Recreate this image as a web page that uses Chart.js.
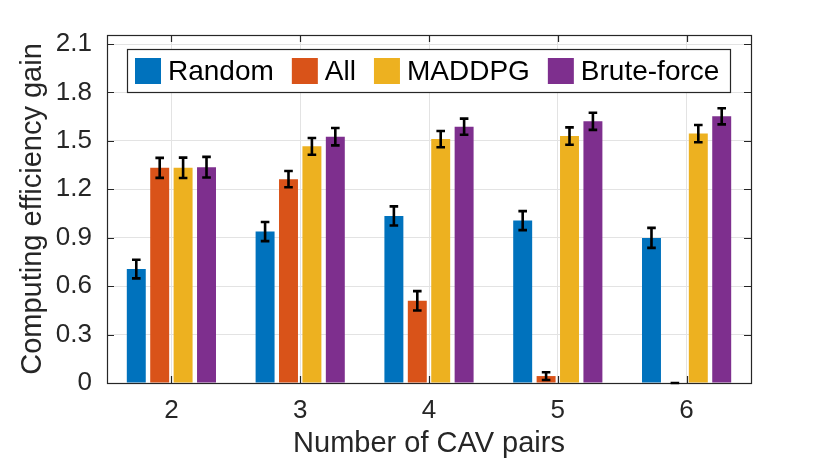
<!DOCTYPE html>
<html>
<head>
<meta charset="utf-8">
<script src="https://cdn.jsdelivr.net/npm/chart.js@4.4.1/dist/chart.umd.min.js"></script>
<style>
  html, body { margin: 0; padding: 0; background: #fff; }
  #wrap { width: 830px; height: 465px; }
</style>
</head>
<body>
<div id="wrap"><canvas id="gainChart"></canvas></div>
<script>
// chart data
const categories = ['2', '3', '4', '5', '6'];
const seriesNames = ['Random', 'All', 'MADDPG', 'Brute-force'];
const randomGain = [0.706, 0.938, 1.035, 1.006, 0.899];
const allGain = [1.333, 1.263, 0.509, 0.043, 0];
const maddpgGain = [1.333, 1.466, 1.511, 1.530, 1.545];
const bruteGain = [1.337, 1.526, 1.588, 1.621, 1.652];
const randomErr = [0.058, 0.059, 0.059, 0.059, 0.062];
const allErr = [0.062, 0.050, 0.060, 0.024, 0];
const maddpgErr = [0.063, 0.052, 0.050, 0.054, 0.053];
const bruteErr = [0.064, 0.054, 0.050, 0.053, 0.050];
const yTicks = [0, 0.3, 0.6, 0.9, 1.2, 1.5, 1.8, 2.1];
const yTickLabels = ['0', '0.3', '0.6', '0.9', '1.2', '1.5', '1.8', '2.1'];

const colors = ['#0072BD', '#D95319', '#EDB120', '#7E2F8E'];
const axisColor = '#262626';
const fontFamily = '"Liberation Sans", Arial, Helvetica, sans-serif';

const values = [randomGain, allGain, maddpgGain, bruteGain];
const errors = [randomErr, allErr, maddpgErr, bruteErr];

// error bars drawn on top of the bars
const errorBarPlugin = {
    id: 'errorBars',
    afterDatasetsDraw(chart) {
        const ctx = chart.ctx;
        const y = chart.scales.y;
        ctx.save();
        ctx.strokeStyle = '#000';
        ctx.lineWidth = 2.6;
        chart.data.datasets.forEach((ds, di) => {
            const meta = chart.getDatasetMeta(di);
            meta.data.forEach((bar, i) => {
                const v = ds.data[i];
                const e = ds.errors[i];
                const yTop = y.getPixelForValue(v + e);
                const yBot = y.getPixelForValue(v - e);
                const x = bar.x;
                ctx.beginPath();
                ctx.moveTo(x, yTop);
                ctx.lineTo(x, yBot);
                ctx.moveTo(x - 4.3, yTop);
                ctx.lineTo(x + 4.3, yTop);
                ctx.moveTo(x - 4.3, yBot);
                ctx.lineTo(x + 4.3, yBot);
                ctx.stroke();
            });
        });
        ctx.restore();
    }
};

// matlab style box with inward ticks on all sides
const boxPlugin = {
    id: 'axesBox',
    afterDatasetsDraw(chart) {
        const ctx = chart.ctx;
        const a = chart.chartArea;
        const xs = chart.scales.x;
        const ys = chart.scales.y;
        const tl = 7;
        ctx.save();
        ctx.strokeStyle = axisColor;
        ctx.lineWidth = 1.2;
        ctx.beginPath();
        xs.ticks.forEach((t, i) => {
            const px = Math.round(xs.getPixelForTick(i)) + 0.5;
            ctx.moveTo(px, a.bottom); ctx.lineTo(px, a.bottom - tl);
            ctx.moveTo(px, a.top); ctx.lineTo(px, a.top + tl);
        });
        ys.ticks.forEach((t) => {
            const py = Math.round(ys.getPixelForValue(t.value)) + 0.5;
            ctx.moveTo(a.left, py); ctx.lineTo(a.left + tl, py);
            ctx.moveTo(a.right, py); ctx.lineTo(a.right - tl, py);
        });
        ctx.stroke();
        ctx.strokeRect(Math.round(a.left) + 0.5, Math.round(a.top) + 0.5,
            Math.round(a.right - a.left), Math.round(a.bottom - a.top));
        ctx.restore();
    }
};

// boxed horizontal legend inside the axes
const legendPlugin = {
    id: 'boxLegend',
    afterDraw(chart) {
        const ctx = chart.ctx;
        const a = chart.chartArea;
        const sw = 26, sh = 26, gapText = 7, gapItem = 18, padL = 8, padR = 11;
        ctx.save();
        ctx.font = '28px ' + fontFamily;
        const items = chart.data.datasets.map(ds => ({
            label: ds.label, color: ds.backgroundColor, w: ctx.measureText(ds.label).width
        }));
        let total = padL + padR;
        items.forEach((it, i) => { total += sw + gapText + it.w + (i < items.length - 1 ? gapItem : 0); });
        const left = a.left + 20;
        const top = a.top + 14;
        const h = 43;
        ctx.fillStyle = '#fff';
        ctx.fillRect(left, top, total, h);
        ctx.strokeStyle = axisColor;
        ctx.lineWidth = 1.2;
        ctx.strokeRect(Math.round(left) + 0.5, Math.round(top) + 0.5, Math.round(total), h);
        let x = left + padL;
        const cy = top + h / 2 + 0.5;
        items.forEach(it => {
            ctx.fillStyle = it.color;
            ctx.fillRect(x, cy - sh / 2, sw, sh);
            x += sw + gapText;
            ctx.fillStyle = '#000';
            ctx.textBaseline = 'middle';
            ctx.fillText(it.label, x, cy + 1);
            x += it.w + gapItem;
        });
        ctx.restore();
    }
};

const datasets = seriesNames.map((name, i) => ({
    label: name,
    data: values[i],
    errors: errors[i],
    backgroundColor: colors[i],
    borderWidth: 0,
    categoryPercentage: 0.727,
    barPercentage: 0.81
}));

new Chart(document.getElementById('gainChart'), {
    type: 'bar',
    data: { labels: categories, datasets: datasets },
    options: {
        responsive: true,
        maintainAspectRatio: false,
        animation: false,
        layout: { padding: { left: 0, right: 79, top: 35, bottom: 0 } },
        plugins: {
            legend: { display: false },
            tooltip: { enabled: false }
        },
        scales: {
            x: {
                offset: true,
                afterFit(scale) { scale.height = 82; },
                grid: { offset: false, color: '#e3e3e3', lineWidth: 1, drawTicks: false },
                border: { display: false },
                ticks: {
                    color: axisColor,
                    padding: 12,
                    font: { size: 26, family: fontFamily }
                },
                title: {
                    display: true,
                    text: 'Number of CAV pairs',
                    color: axisColor,
                    padding: { top: 0, bottom: 4 },
                    font: { size: 29, family: fontFamily }
                }
            },
            y: {
                min: 0,
                max: 2.156,
                afterFit(scale) { scale.width = 107; },
                afterBuildTicks(scale) { scale.ticks = yTicks.map(v => ({ value: v })); },
                grid: { color: '#e3e3e3', lineWidth: 1, drawTicks: false },
                border: { display: false },
                ticks: {
                    color: axisColor,
                    padding: 15,
                    font: { size: 26, family: fontFamily },
                    callback: (v, i) => yTickLabels[i]
                },
                title: {
                    display: true,
                    text: 'Computing efficiency gain',
                    color: axisColor,
                    padding: { top: 16, bottom: 0 },
                    font: { size: 29, family: fontFamily }
                }
            }
        }
    },
    plugins: [boxPlugin, errorBarPlugin, legendPlugin]
});
</script>
</body>
</html>
